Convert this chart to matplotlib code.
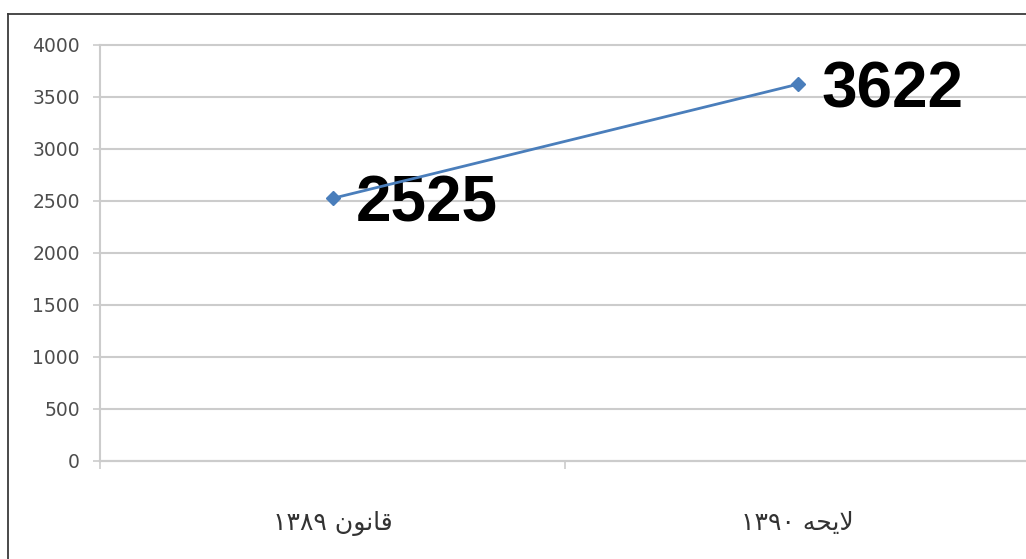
import numpy as np
import matplotlib.pyplot as plt
from matplotlib.lines import Line2D
from matplotlib.ticker import FixedLocator

# Persian labels, written as presentation forms in visual order
# (matplotlib does no Arabic shaping or bidi)
categories = [
    "\u06F1\u06F3\u06F8\u06F9 \uFEE5\uFEEE\uFEE7\uFE8E\uFED7",  # قانون ۱۳۸۹
    "\u06F1\u06F3\u06F9\u06F0 \uFEEA\uFEA4\uFEF3\uFEFB",        # لایحه ۱۳۹۰
]
values = [2525, 3622]
value_labels = ["2525", "3622"]
y_ticks = [0, 500, 1000, 1500, 2000, 2500, 3000, 3500, 4000]

W, H = 1026, 559
fig = plt.figure(figsize=(W / 100, H / 100), dpi=100)
fig.patch.set_facecolor("white")

# plot area: y axis at x=100px, 0 at y=461px, 4000 at y=45px
ax = fig.add_axes([100 / W, (H - 461) / H, 930 / W, 416 / H])
ax.set_xlim(-0.5, 1.5)
ax.set_ylim(0, 4000)

grid_c = "#cccccc"
ax.set_yticks(y_ticks)
ax.yaxis.grid(True, color=grid_c, linewidth=1.5)
for gl in ax.get_ygridlines():
    gl.set_clip_on(False)
ax.set_axisbelow(True)
for s in ["top", "right"]:
    ax.spines[s].set_visible(False)
ax.spines["left"].set_color(grid_c)
ax.spines["left"].set_linewidth(1.5)
ax.spines["bottom"].set_color(grid_c)
ax.spines["bottom"].set_linewidth(1.5)

ax.tick_params(axis="y", direction="out", length=5, width=1.2, color=grid_c,
               labelsize=13.5, labelcolor="#4d4d4d", pad=9.5)
for t in ax.get_yticklabels():
    t.set_fontfamily("DejaVu Sans")

# category boundaries as major ticks, labels on minor ticks at centres
ax.xaxis.set_major_locator(FixedLocator([-0.5, 0.5, 1.5]))
ax.set_xticklabels(["", "", ""])
ax.tick_params(axis="x", which="major", direction="out", length=6, width=1.2, color=grid_c)
ax.xaxis.set_minor_locator(FixedLocator([0, 1]))
ax.set_xticklabels(categories, minor=True, fontsize=18, color="#333333", family="DejaVu Sans")
ax.tick_params(axis="x", which="minor", length=0, pad=36)

x = np.arange(len(values))
ax.plot(x, values, color="#4a7ebb", linewidth=2, marker="D", markersize=7.5,
        zorder=5, clip_on=False)

for xi, v, lab in zip(x, values, value_labels):
    ax.annotate(lab, (xi, v), xytext=(17, -16.5), textcoords="offset points",
                ha="left", va="baseline", fontsize=46, fontweight="bold",
                family="Liberation Sans", color="black", zorder=3)

# outer chart border (left and top edges visible)
fig.add_artist(Line2D([8 / W, 8 / W], [0, 1 - 14 / H], transform=fig.transFigure,
                      color="#3a3a3a", linewidth=1.3))
fig.add_artist(Line2D([8 / W, 1], [1 - 14 / H, 1 - 14 / H], transform=fig.transFigure,
                      color="#3a3a3a", linewidth=1.3))

fig.savefig("out.png", dpi=100)
